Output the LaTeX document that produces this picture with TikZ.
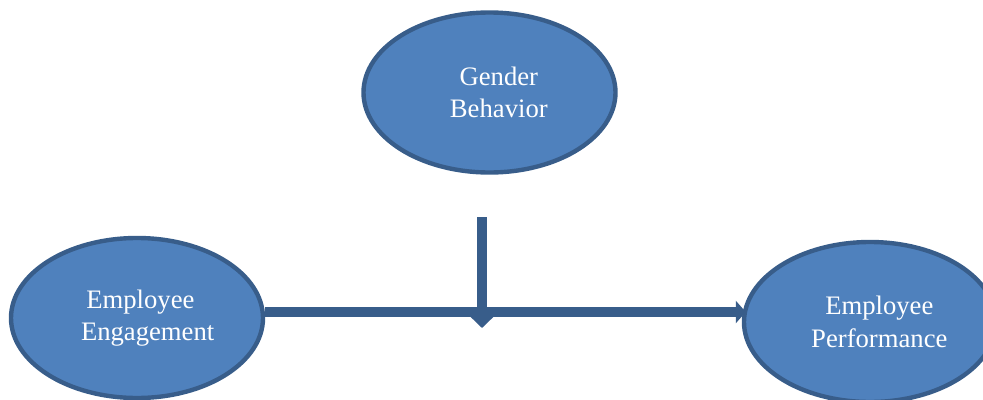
\documentclass[tikz,border=0pt]{standalone}
\usepackage{fontspec}
\setmainfont{Liberation Serif}
\usetikzlibrary{arrows.meta,shapes.geometric}
\definecolor{fillblue}{HTML}{4F81BD}
\definecolor{edgeblue}{HTML}{385D8A}

\begin{document}
\begin{tikzpicture}[
  x=0.75pt, y=-0.75pt,
  bubble/.style={ellipse, draw=edgeblue, fill=fillblue, line width=3.3pt,
                 minimum width=189pt, minimum height=120pt, inner sep=0pt,
                 text=white, font=\fontsize{20}{24.5}\selectfont, align=center},
  link/.style={draw=edgeblue, line width=7pt},
]
\useasboundingbox (0,0) rectangle (983,400);

% ---------- Ellipses ----------
\node[bubble] (gb) at (489.5,92.5) {\hspace*{14pt}Gender\\\hspace*{14pt}Behavior};
\node[bubble, align=left] (ee) at (137,318) {\hspace*{20pt}Employee\\\hspace*{16pt}Engagement};
\node[bubble] (ep) at (870,322) {\hspace*{14pt}Employee\\\hspace*{14pt}Performance};

% ---------- Connectors ----------
\coordinate (join) at (482,312);
\coordinate (modtop) at (482,217);
\coordinate (modtip) at (482,328);
\draw[link, -{Triangle[length=7.5pt,width=16.5pt]}] (ee.east |- join) -- ([xshift=3pt]ep.west |- join);
\draw[link, -{Triangle[length=8.25pt,width=16.5pt]}] (modtop) -- (modtip);
\end{tikzpicture}
\end{document}
